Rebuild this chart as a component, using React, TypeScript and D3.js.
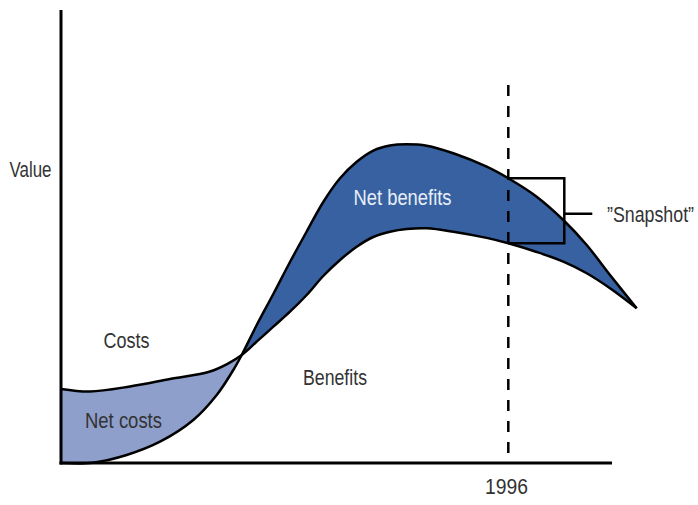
import React from "react";
import * as d3 from "d3";

// time (abstract units) and values
const costTimes = [0, 5.26, 12.52, 19.78, 27.04, 30.31, 32.8, 35.52, 38.53, 41.56, 44.59, 47.6, 50.64, 53.67, 56.68, 59.71, 62.74, 66.37, 71.2, 77.26, 81.18, 86.33, 91.16, 95.41, 99.64, 104.48];
const costValues = [16.34, 15.78, 16.89, 18.54, 20.2, 21.96, 23.84, 26.78, 30.09, 33.4, 37.09, 41.28, 44.81, 47.75, 49.89, 51.06, 51.66, 51.81, 51.06, 49.7, 48.5, 46.58, 44.44, 41.88, 38.57, 34.15];
const benefitTimes = [0, 5.81, 11.92, 17.97, 24.01, 28.26, 31.27, 32.8, 35.52, 38.53, 41.56, 44.59, 47.6, 50.64, 53.67, 56.68, 59.71, 62.74, 66.37, 71.2, 77.26, 81.18, 86.33, 91.16, 95.41, 99.64, 104.48];
const benefitValues = [0, 0.07, 1.77, 4.7, 9.49, 15.01, 20.53, 23.84, 30.46, 37.31, 44.37, 51.1, 57.62, 62.85, 66.51, 68.98, 70.09, 70.35, 70.04, 68.37, 65.41, 62.85, 58.79, 53.64, 48.12, 41.5, 34.15];
const crossingTime = 32.8;
const snapshotTime = 81.18;
const snapshotBenefit = 62.85;
const snapshotCost = 48.5;
const snapshotLabel = "1996";

const W = 698;
const H = 505;

export default function App() {
  const x = d3.scaleLinear().domain([0, 100]).range([61, 612]);
  const y = d3.scaleLinear().domain([0, 100]).range([463, 10]);

  const cPts = costTimes.map((t, i) => [t, costValues[i]] as [number, number]);
  const bPts = benefitTimes.map((t, i) => [t, benefitValues[i]] as [number, number]);
  const line = d3
    .line<[number, number]>()
    .x((d) => x(d[0]))
    .y((d) => y(d[1]))
    .curve(d3.curveCatmullRom.alpha(0.5));

  const cD = line(cPts) || "";
  const bD = line(bPts) || "";
  const bRev = line(bPts.slice().reverse()) || "";
  const areaD = cD + "L" + bRev.slice(1) + "Z";

  const cx = x(crossingTime);
  const sx = x(snapshotTime);
  const sTop = y(snapshotBenefit);
  const sBot = y(snapshotCost);
  const bracketR = sx + 56;
  const sMid = (sTop + sBot) / 2 + 3;

  const txt = {
    fontFamily: "'Liberation Sans', Arial, sans-serif",
    fontSize: 22,
    fill: "#333",
    lengthAdjust: "spacingAndGlyphs",
  } as const;

  return (
    <div style={{ position: "absolute", left: 0, top: 0 }}>
      <svg width={W} height={H} viewBox={`0 0 ${W} ${H}`} style={{ display: "block", background: "#fff" }}>
        <defs>
          <clipPath id="leftClip">
            <rect x={0} y={0} width={cx} height={H} />
          </clipPath>
          <clipPath id="rightClip">
            <rect x={cx} y={0} width={W - cx} height={H} />
          </clipPath>
        </defs>
        <path d={areaD} fill="#8e9fcb" clipPath="url(#leftClip)" />
        <path d={areaD} fill="#3761a0" clipPath="url(#rightClip)" />

        {/* dashed snapshot line */}
        <line x1={sx} x2={sx} y1={85} y2={y(0)} stroke="#000" strokeWidth={2.5} strokeDasharray="11 10" />

        <path d={cD} fill="none" stroke="#000" strokeWidth={2.5} />
        <path d={bD} fill="none" stroke="#000" strokeWidth={2.5} />

        {/* bracket */}
        <path
          d={`M${sx},${sTop}H${bracketR}V${sBot}H${sx}M${bracketR},${sMid}H${bracketR + 28}`}
          fill="none"
          stroke="#000"
          strokeWidth={2.5}
        />

        {/* axes */}
        <line x1={x(0)} x2={x(0)} y1={y(100)} y2={y(0) + 1.5} stroke="#000" strokeWidth={3} />
        <line x1={x(0) - 1.5} x2={x(100)} y1={y(0)} y2={y(0)} stroke="#000" strokeWidth={3} />

        <text x={9.5} y={177} textLength={42} {...txt}>Value</text>
        <text x={103.5} y={348} textLength={46} {...txt}>Costs</text>
        <text x={85} y={428} textLength={77} {...txt}>Net costs</text>
        <text x={303} y={385} textLength={64} {...txt}>Benefits</text>
        <text x={353.5} y={205} textLength={98} {...txt} fill="#e8eef8">Net benefits</text>
        <text x={485} y={494} textLength={43} {...txt}>{snapshotLabel}</text>
        <text x={607} y={222} textLength={87} {...txt}>”Snapshot”</text>
      </svg>
    </div>
  );
}
